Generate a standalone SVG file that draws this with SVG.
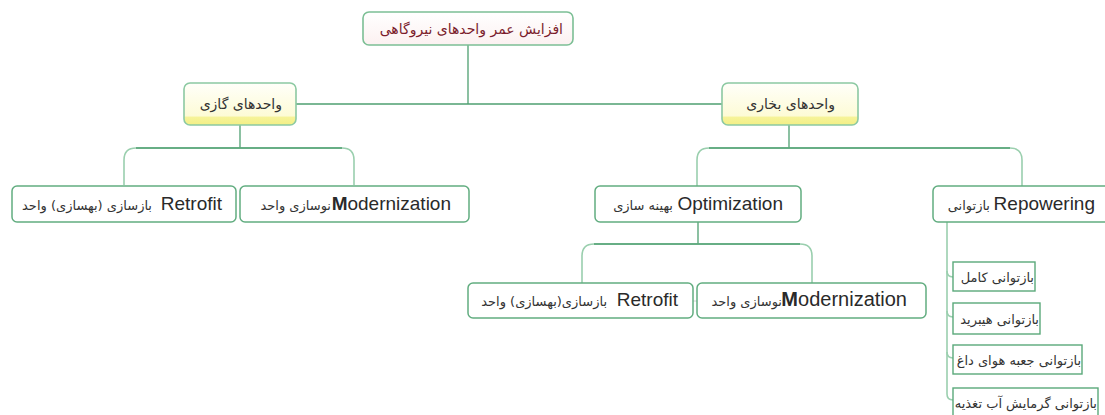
<svg xmlns="http://www.w3.org/2000/svg" width="1105" height="415" viewBox="0 0 1105 415">
<defs>
<linearGradient id="gYellow" x1="0" y1="0" x2="0" y2="1">
<stop offset="0" stop-color="#fffffa"/>
<stop offset="0.78" stop-color="#fdfbd6"/>
<stop offset="0.82" stop-color="#f6f398"/>
<stop offset="1" stop-color="#f3ef86"/>
</linearGradient>
<linearGradient id="gRoot" x1="0" y1="0" x2="0" y2="1">
<stop offset="0" stop-color="#ffffff"/>
<stop offset="1" stop-color="#fcf1f1"/>
</linearGradient>
<style>
.box{fill:#ffffff;stroke:#62ad80;stroke-width:1.5}
.root{fill:url(#gRoot);stroke:#7cbf95;stroke-width:1.6}
.ybox{fill:url(#gYellow);stroke:#8cc9a2;stroke-width:1.6}
.sq{fill:#ffffff;stroke:#5aa97a;stroke-width:1.4}
.ln{fill:none;stroke:#4e9f70;stroke-width:1.3}
.lt{fill:none;stroke:#9acfae;stroke-width:1.6}
.gr{fill:none;stroke:#c4c4c4;stroke-width:0.8}
.fa{font-family:"DejaVu Sans",sans-serif;fill:#333333}
.en{font-family:"Liberation Sans",Arial,sans-serif;fill:#2a2a2a;font-size:19px}
</style>
</defs>
<g id="connectors">
<path class="ln" d="M468 45 V104"/>
<path class="ln" d="M296 104 H722"/>
<path class="ln" d="M240 125 V148"/>
<path class="lt" d="M124 185 V160 Q124 148 136 148 H342 Q354 148 354 160 V185"/>
<path class="ln" d="M136 148 H342"/>
<path class="ln" d="M789 125 V148"/>
<path class="lt" d="M697 186 V160 Q697 148 709 148 H1010 Q1022 148 1022 160 V186"/>
<path class="ln" d="M709 148 H1010"/>
<path class="ln" d="M698 222 V244"/>
<path class="lt" d="M582 283 V256 Q582 244 594 244 H800 Q812 244 812 256 V283"/>
<path class="ln" d="M594 244 H800"/>
<path class="lt" d="M947 222 V394"/>
<path class="lt" d="M947 271 Q947 277 953 277"/>
<path class="lt" d="M947 311 Q947 317 953 317"/>
<path class="lt" d="M947 352 Q947 358 953 358"/>
<path class="lt" d="M947 394 Q947 400 953 400"/>
<path class="gr" d="M470 301 H926"/>
<path class="gr" d="M953 317 H1040"/>
<path class="gr" d="M953 358 H1082"/>
</g>
<g id="root">
<rect class="root" x="363" y="12" width="210" height="33" rx="6"/>
<text class="fa" x="563" y="34" text-anchor="end" font-size="14" style="fill:#7b1c2c">افزایش عمر واحدهای نیروگاهی</text>
</g>
<g id="gas">
<rect class="ybox" x="184" y="83" width="112" height="42" rx="6"/>
<text class="fa" x="282" y="109" text-anchor="end" font-size="14">واحدهای گازی</text>
</g>
<g id="steam">
<rect class="ybox" x="722" y="83" width="136" height="42" rx="6"/>
<text class="fa" x="835" y="109" text-anchor="end" font-size="14">واحدهای بخاری</text>
</g>
<g id="gas-retrofit">
<rect class="box" x="12" y="186" width="224" height="36" rx="5"/>
<text class="en" x="222" y="210" text-anchor="end">Retrofit</text>
<text class="fa" x="152" y="210" text-anchor="end" font-size="13">بازسازی (بهسازی) واحد</text>
</g>
<g id="gas-modernization">
<rect class="box" x="240" y="186" width="229" height="36" rx="5"/>
<text class="en" x="451" y="210" text-anchor="end"><tspan font-weight="bold">M</tspan>odernization</text>
<text class="fa" x="331" y="210" text-anchor="end" font-size="13">نوسازی واحد</text>
</g>
<g id="optimization">
<rect class="box" x="595" y="186" width="206" height="36" rx="5"/>
<text class="en" x="783" y="210" text-anchor="end">Optimization</text>
<text class="fa" x="673" y="210" text-anchor="end" font-size="13">بهینه سازی</text>
</g>
<g id="repowering">
<rect class="box" x="933" y="186" width="185" height="36" rx="5"/>
<text class="en" x="1095" y="210" text-anchor="end">Repowering</text>
<text class="fa" x="990" y="210" text-anchor="end" font-size="13">بازتوانی</text>
</g>
<g id="opt-retrofit">
<rect class="box" x="468" y="283" width="225" height="35" rx="5"/>
<text class="en" x="678" y="306" text-anchor="end">Retrofit</text>
<text class="fa" x="607" y="306" text-anchor="end" font-size="13">بازسازی(بهسازی) واحد</text>
</g>
<g id="opt-modernization">
<rect class="box" x="697" y="283" width="229" height="35" rx="5"/>
<text class="en" x="907" y="306" text-anchor="end" style="font-size:20px"><tspan font-weight="bold">M</tspan>odernization</text>
<text class="fa" x="782" y="306" text-anchor="end" font-size="13">نوسازی واحد</text>
</g>
<g id="rep-full">
<rect class="sq" x="953" y="262" width="82" height="29"/>
<text class="fa" x="1034" y="282" text-anchor="end" font-size="13">بازتوانی کامل</text>
</g>
<g id="rep-hybrid">
<rect class="sq" x="953" y="303" width="87" height="31"/>
<text class="fa" x="1039" y="324" text-anchor="end" font-size="13">بازتوانی هیبرید</text>
</g>
<g id="rep-hotwind">
<rect class="sq" x="953" y="345" width="129" height="29"/>
<text class="fa" x="1081" y="365" text-anchor="end" font-size="13">بازتوانی جعبه هوای داغ</text>
</g>
<g id="rep-feedwater">
<rect class="sq" x="953" y="388" width="145" height="30"/>
<text class="fa" x="1097" y="408" text-anchor="end" font-size="13">بازتوانی گرمایش آب تغذیه</text>
</g>
</svg>
